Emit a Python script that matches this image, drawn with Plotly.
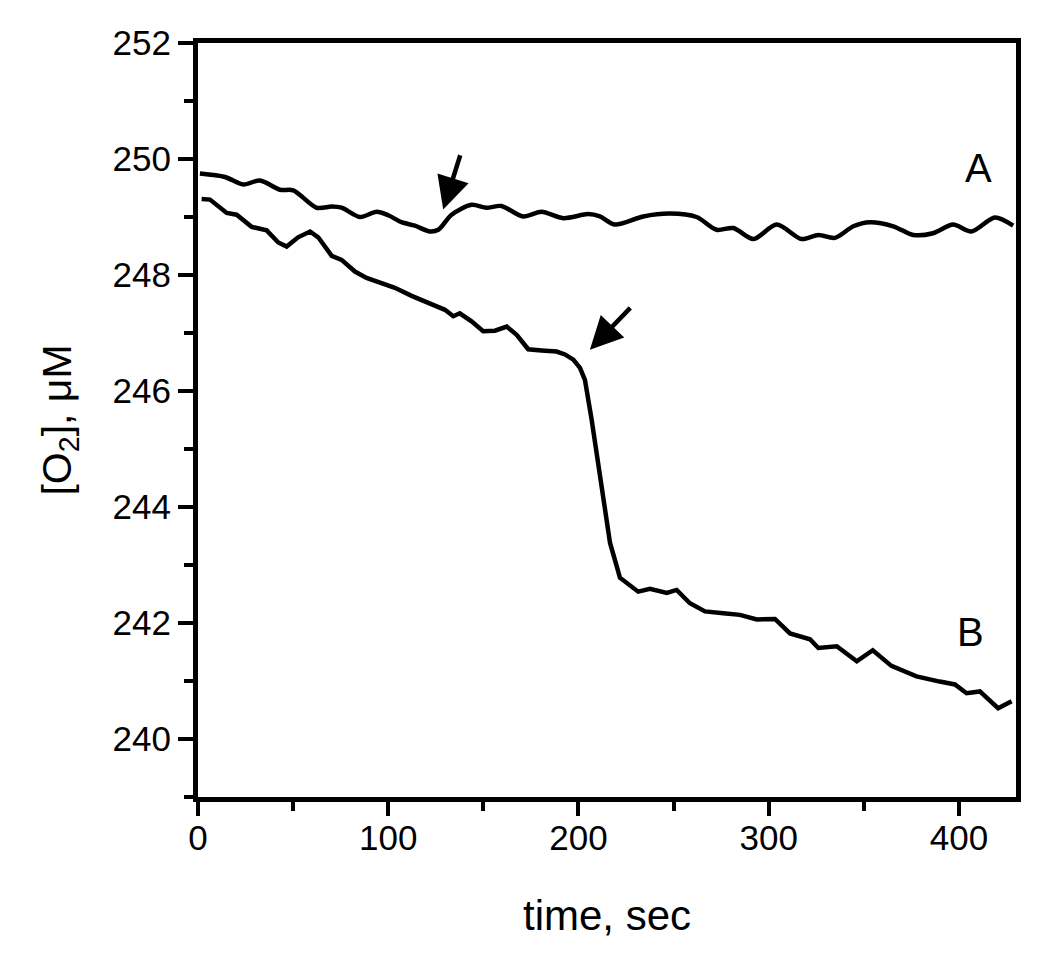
import plotly.graph_objects as go

# Curve A (smooth trace)
time_a = [1, 14.2, 23.8, 32.6, 43.1, 50.1, 62.3, 70.3, 75.5, 85.1, 93.9, 100, 107, 114, 121.9, 126.3,
          133.3, 143.8, 151.6, 159.5, 170.9, 180.6, 192, 205.1, 211.3, 219.2, 234, 248.1, 262.1, 272.6,
          281.4, 291.9, 304.2, 317.3, 326.1, 334.8, 344.5, 353.2, 365.5, 376, 386.4, 396.9, 406.6,
          418.9, 428.5]
o2_a = [249.75, 249.69, 249.56, 249.63, 249.47, 249.46, 249.16, 249.18, 249.16, 249.0, 249.09, 249.03,
        248.91, 248.85, 248.75, 248.78, 249.04, 249.21, 249.16, 249.19, 249.01, 249.09, 248.98, 249.05,
        249.01, 248.87, 249.01, 249.06, 249.0, 248.78, 248.81, 248.62, 248.87, 248.62, 248.69, 248.64,
        248.84, 248.91, 248.84, 248.69, 248.72, 248.87, 248.75, 248.99, 248.85]

# Curve B (noisy trace)
time_b = [1.9, 6.3, 15.1, 20.3, 28.2, 36.1, 42.2, 46.6, 52.6, 58.9, 63.2, 70.3, 75.5, 82.5, 88.6, 96.5,
          103.5, 112.3, 121, 129.8, 134.2, 137.6, 143.8, 149.9, 156.1, 162.3, 167.5, 173.6, 180.6, 188.5,
          192.9, 197.3, 200.8, 203.4, 206.9, 210.4, 213.9, 216.6, 220.1, 221.8, 231.4, 237.6, 246.4,
          251.6, 258.6, 266.5, 276.1, 284.9, 293.7, 303.3, 311.2, 321.7, 326.1, 335.8, 346.3, 354.7,
          364.5, 377.7, 389.9, 397.9, 404, 411, 420.6, 427.7]
o2_b = [249.31, 249.30, 249.07, 249.04, 248.83, 248.77, 248.56, 248.49, 248.65, 248.75, 248.65, 248.33,
        248.26, 248.06, 247.95, 247.86, 247.78, 247.64, 247.52, 247.40, 247.29, 247.34, 247.20, 247.03,
        247.04, 247.11, 246.97, 246.72, 246.70, 246.68, 246.63, 246.54, 246.40, 246.19, 245.51, 244.70,
        243.90, 243.38, 242.98, 242.78, 242.54, 242.59, 242.52, 242.57, 242.34, 242.20, 242.17, 242.14,
        242.06, 242.07, 241.82, 241.72, 241.57, 241.60, 241.34, 241.53, 241.26, 241.08, 240.99, 240.94,
        240.79, 240.82, 240.53, 240.65]

# Arrow markers: (tail x, tail y, head x, head y)
arrow_a = (138.1, 250.09, 128.9, 249.13)
arrow_b = (228.0, 247.46, 206.0, 246.71)

curve_labels = ["A", "B"]
label_pos = [(410.5, 249.85), (406, 241.84)]

FONT = "Arial, Liberation Sans, sans-serif"

fig = go.Figure()
fig.add_trace(go.Scatter(x=time_a, y=o2_a, mode="lines",
                         line=dict(color="black", width=4.5, shape="spline", smoothing=0.8),
                         showlegend=False))
fig.add_trace(go.Scatter(x=time_b, y=o2_b, mode="lines",
                         line=dict(color="black", width=4.5),
                         showlegend=False))

for (tx, ty, hx, hy) in [arrow_a, arrow_b]:
    fig.add_annotation(x=hx, y=hy, ax=tx, ay=ty, xref="x", yref="y", axref="x", ayref="y",
                       showarrow=True, arrowhead=2, arrowsize=1.45, arrowwidth=4.5,
                       arrowcolor="black", text="")

for lab, (lx, ly) in zip(curve_labels, label_pos):
    fig.add_annotation(x=lx, y=ly, xref="x", yref="y", text=lab, showarrow=False,
                       font=dict(family=FONT, size=40, color="black"))

fig.update_xaxes(range=[0, 430], tickmode="linear", tick0=0, dtick=100,
                 ticks="outside", ticklen=14, tickwidth=4, tickcolor="black",
                 minor=dict(ticks="outside", dtick=50, ticklen=9, tickwidth=4, tickcolor="black"),
                 showline=True, linewidth=5, linecolor="black", mirror=True,
                 showgrid=False, zeroline=False,
                 tickfont=dict(family=FONT, size=35, color="black"),
                 ticklabelstandoff=-8,
                 title=dict(text="time, sec", font=dict(family=FONT, size=42, color="black"), standoff=46))
fig.update_yaxes(range=[239, 252], tickmode="linear", tick0=240, dtick=2,
                 ticks="outside", ticklen=15, tickwidth=4, tickcolor="black",
                 minor=dict(ticks="outside", dtick=1, ticklen=9, tickwidth=4, tickcolor="black"),
                 showline=True, linewidth=5, linecolor="black", mirror=True,
                 showgrid=False, zeroline=False,
                 tickfont=dict(family=FONT, size=35, color="black"),
                 ticklabelstandoff=0,
                 title=dict(text="[O<sub>2</sub>], μM", font=dict(family=FONT, size=41, color="black"), standoff=30))

fig.update_layout(width=1042, height=961, margin=dict(l=190, r=34, t=35, b=172),
                  plot_bgcolor="white", paper_bgcolor="white")

fig.write_html("out.html")
